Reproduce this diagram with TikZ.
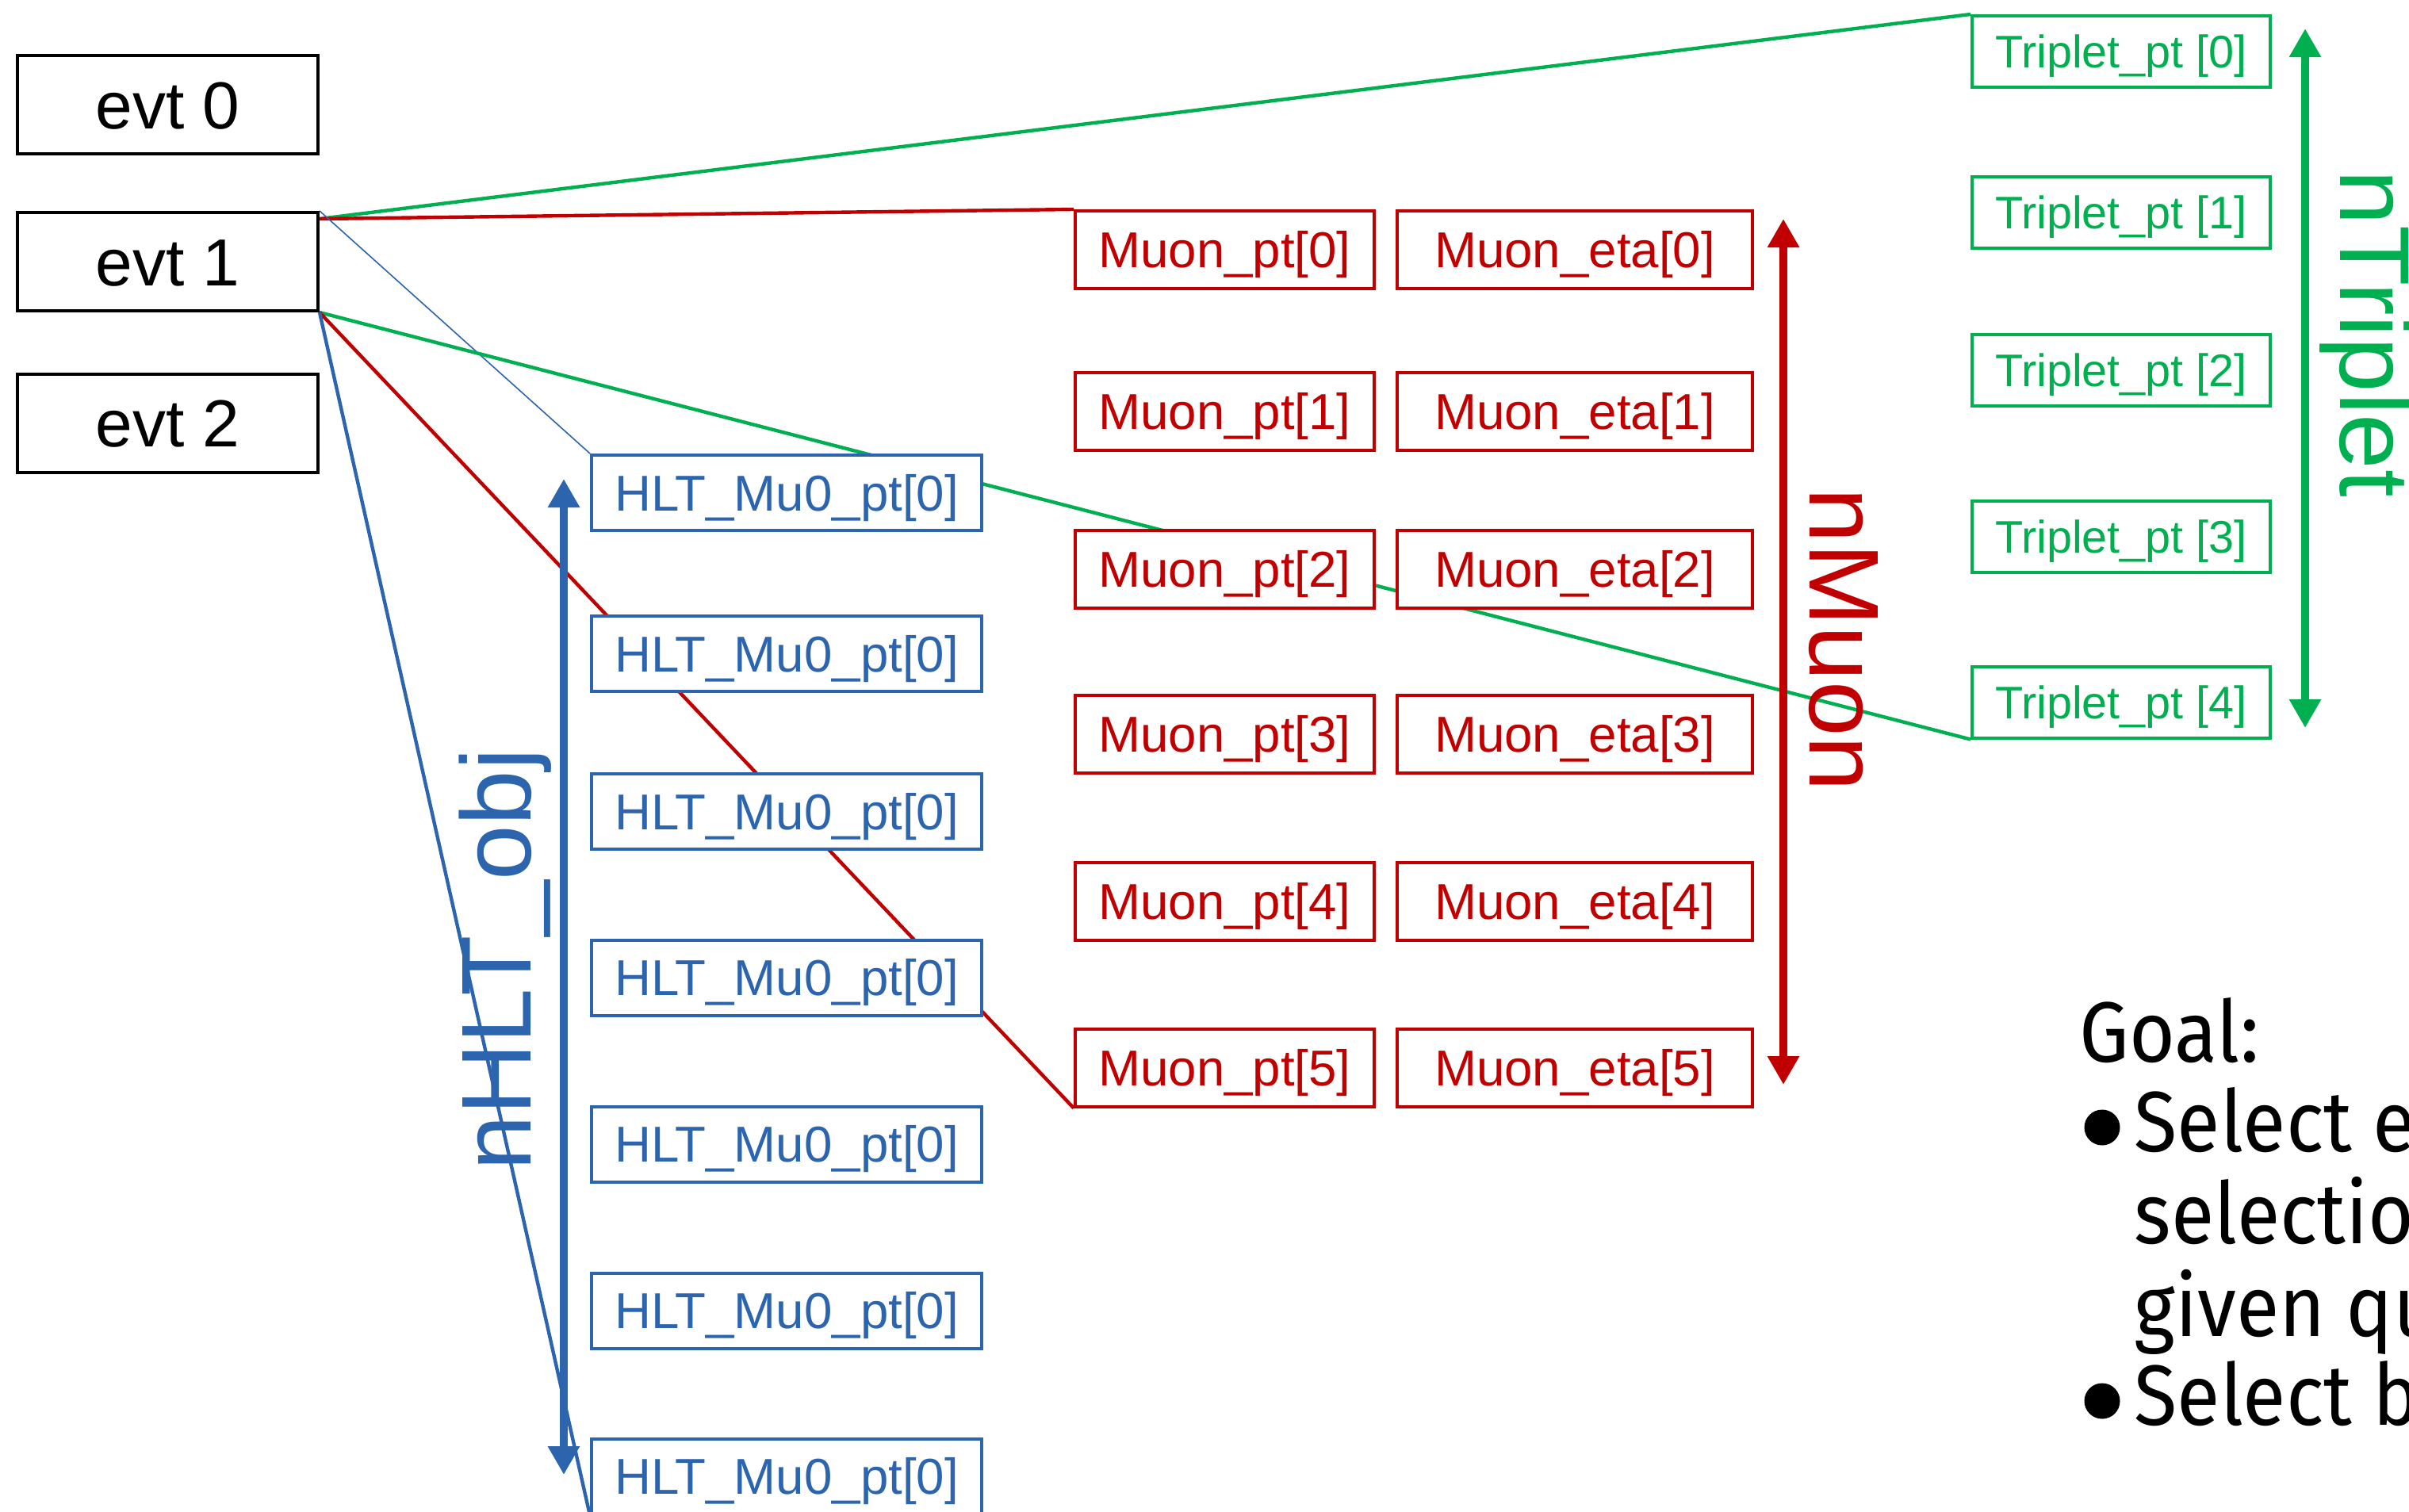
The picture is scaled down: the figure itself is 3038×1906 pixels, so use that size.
\documentclass[tikz,border=0pt]{standalone}
\usepackage{fontspec}
\setmainfont{Liberation Sans}
\newfontfamily\goalfont[FakeStretch=0.92]{Fira Sans}
\usetikzlibrary{arrows.meta,backgrounds}
\definecolor{mred}{HTML}{C00000}
\definecolor{mgreen}{HTML}{00B050}
\definecolor{mblue}{HTML}{2C64AE}
\begin{document}
\begin{tikzpicture}[x=0.25pt,y=-0.25pt,
  box/.style={draw, rectangle, fill=white, inner sep=0pt, line width=1pt, text depth=0pt, anchor=center},
  evtbox/.style={box, draw=black, minimum width=94.75pt, minimum height=31pt, text height=15pt, font=\fontsize{21}{25}\selectfont},
  muonbox/.style={box, draw=mred, text=mred, minimum height=24.5pt, text height=11.4pt, font=\fontsize{15.9}{19}\selectfont},
  hltbox/.style={box, draw=mblue, text=mblue, minimum width=123pt, minimum height=23.75pt, text height=11.4pt, font=\fontsize{15.9}{19}\selectfont},
  tripbox/.style={box, draw=mgreen, text=mgreen, minimum width=94pt, minimum height=22.5pt, text height=10.3pt, font=\fontsize{14.4}{17}\selectfont},
  biglabel/.style={inner sep=0pt, text height=22.4pt, text depth=0pt, anchor=center, font=\fontsize{31.25}{36}\selectfont},
  dblarrow/.style={line width=2.6pt, {Triangle[length=9pt,width=9.5pt]}-{Triangle[length=9pt,width=9.5pt]}},
  goal/.style={inner sep=0pt, anchor=base west, font=\goalfont\fontsize{27}{32}\selectfont},
  bulletdot/.style={circle, fill=black, inner sep=0pt, minimum size=11.25pt}
]
\clip (0,0) rectangle (3038,1906);

% events
\node[evtbox] (e0) at (211.5,132) {evt 0};
\node[evtbox] (e1) at (211.5,330) {evt 1};
\node[evtbox] (e2) at (211.5,533.5) {evt 2};
\coordinate (e1top) at ([yshift=-2.5pt]e1.north east);

% muons
\foreach \i/\y in {0/315,1/518.5,2/717.5,3/926,4/1136.5,5/1346.5} {
  \node[muonbox, minimum width=94.25pt] (mp\i) at (1544.5,\y) {Muon\_pt[\i]};
  \node[muonbox, minimum width=112pt] (me\i) at (1986,\y) {Muon\_eta[\i]};
}

% HLT objects
\foreach \i/\y in {0/621.5,1/824.5,2/1023.5,3/1233,4/1443,5/1653,6/1862} {
  \node[hltbox] (h\i) at (992,\y) {HLT\_Mu0\_pt[0]};
}

% triplets
\foreach \i/\y in {0/65,1/268,2/467,3/676.5,4/885.5} {
  \node[tripbox] (t\i) at (2675,\y) {Triplet\_pt [\i]};
}

% connectors (behind boxes)
\begin{pgfonlayer}{background}
  \fill[white] (0,0) rectangle (3038,1906);
  \draw[mgreen, line width=1.1pt] (e1top) -- (t0.north west);
  \draw[mred, line width=1.1pt] (e1top) -- (mp0.north west);
  \draw[mblue, line width=0.4pt] (e1.north east) -- (h0.north west);
  \draw[mgreen, line width=1.1pt] (e1.south east) -- (t4.south west);
  \draw[mred, line width=1.1pt] (e1.south east) -- (mp5.south west);
  \draw[mblue, line width=1.1pt] (e1.south east) -- (h6.south west);
\end{pgfonlayer}

% count arrows
\coordinate (hA) at (711,604);
\coordinate (hB) at (711,1860);
\coordinate (mA) at (2249,276);
\coordinate (mB) at (2249,1368);
\coordinate (tA) at (2907,36);
\coordinate (tB) at (2907,918);
\draw[dblarrow, mblue] (hA) -- (hB);
\draw[dblarrow, mred] (mA) -- (mB);
\draw[dblarrow, mgreen] (tA) -- (tB);

\node[biglabel, text=mblue, rotate=90] (nh) at (625,1210) {nHLT\_obj};
\node[biglabel, text=mred, rotate=-90] (nm) at (2327,807) {nMuon};
\node[biglabel, text=mgreen, rotate=-90] (nt) at (2996,421) {nTriplet};

% goal text
\node[goal] (g0) at (2622,1339) {Goal:};
\node[bulletdot] (b1) at (2651,1422) {};
\node[goal] (g1) at (2691,1452) {Select e};
\node[goal] (g2) at (2691,1568) {selectio};
\node[goal] (g3) at (2691,1685) {given qu};
\node[bulletdot] (b2) at (2651,1767) {};
\node[goal] (g4) at (2691,1797) {Select b};
\end{tikzpicture}
\end{document}
